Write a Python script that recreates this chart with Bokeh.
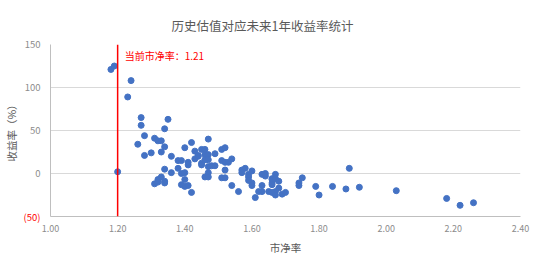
from bokeh.plotting import figure
from bokeh.models import Span, Label, FixedTicker, ColumnDataSource
from bokeh.embed import file_html
from bokeh.resources import INLINE

title_text = "历史估值对应未来1年收益率统计"
x_label = "市净率"
y_label = "收益率（%）"
current_pb = 1.21
current_line_at = 1.20
current_text = "当前市净率：1.21"

x_ticks = [1.0, 1.2, 1.4, 1.6, 1.8, 2.0, 2.2, 2.4]
y_ticks = [-50, 0, 50, 100, 150]
y_neg_tick = -50

pb = [1.18, 1.19, 1.20, 1.24, 1.23,
      1.27, 1.27, 1.35, 1.34, 1.28,
      1.26, 1.31, 1.32, 1.33, 1.34, 1.33, 1.30, 1.28, 1.36,
      1.42, 1.40, 1.43, 1.44, 1.43, 1.38, 1.39, 1.41, 1.41, 1.38, 1.34, 1.36, 1.39, 1.40,
      1.40, 1.39, 1.40, 1.41, 1.42, 1.33, 1.32, 1.31, 1.34, 1.34, 1.32,
      1.47, 1.45, 1.46, 1.44, 1.46, 1.47, 1.49, 1.51, 1.52, 1.45, 1.45, 1.46, 1.47, 1.47,
      1.48, 1.49, 1.51, 1.52, 1.53, 1.54, 1.52, 1.47, 1.46, 1.47, 1.51, 1.52, 1.54, 1.56,
      1.57, 1.58, 1.57, 1.59, 1.59, 1.59, 1.60, 1.60, 1.60, 1.61, 1.62, 1.63, 1.63, 1.63,
      1.64, 1.64, 1.66, 1.66, 1.65, 1.67,
      1.67, 1.66, 1.67, 1.68, 1.66, 1.68, 1.66, 1.67, 1.69, 1.70, 1.74, 1.74, 1.75, 1.79,
      1.80, 1.84, 1.88, 1.89, 1.92, 2.03, 2.18, 2.22, 2.26]
ret = [121, 125, 2, 108, 89,
       65, 56, 63, 52, 44,
       34, 41, 38, 38, 31, 25, 24, 21, 20,
       36, 30, 26, 20, 17, 15, 15, 10, 13, 6, 5, 1, 0, 1,
       -7, -13, -15, -14, -22, -4, -7, -12, -9, -11, -10,
       40, 28, 28, 21, 22, 22, 23, 28, 30, 12, 10, 16, 16, 8,
       9, 9, 15, 13, 13, 17, 4, 1, -4, -4, -5, -5, -14, -21,
       4, 6, 1, -1, -4, -8, 3, -11, -14, -28, -21, -21, -14, -1,
       0, -3, -7, -11, -21, -21,
       -1, -6, -6, -9, -13, -17, -22, -25, -24, -22, -11, -14, -5, -15,
       -25, -15, -18, 6, -16, -20, -29, -37, -34]

FONT = "Noto Sans CJK SC"
GREY = "#595959"
TICK_GREY = "#8c8c8c"

p = figure(width=537, height=259, output_backend="svg", toolbar_location=None,
           x_range=(1.0, 2.4), y_range=(-50, 150),
           min_border_left=46, min_border_right=15, min_border_top=44, min_border_bottom=43)
p.outline_line_color = None
p.background_fill_color = "white"
p.border_fill_color = "white"

p.title.text = title_text
p.title.align = "left"
p.title.offset = 121
p.title.text_font = FONT
p.title.text_font_size = "12.5px"
p.title.text_font_style = "normal"
p.title.text_color = GREY
p.title.standoff = 20

# x axis
p.xaxis.ticker = FixedTicker(ticks=x_ticks)
p.xaxis.major_label_overrides = {t: f"{t:.2f}" for t in x_ticks}
p.xaxis.axis_label = x_label
p.xaxis.axis_label_text_font = FONT
p.xaxis.axis_label_text_font_size = "10.5px"
p.xaxis.axis_label_text_font_style = "normal"
p.xaxis.axis_label_text_color = GREY
p.xaxis.axis_label_standoff = 5
p.xaxis.major_label_text_font = FONT
p.xaxis.major_label_text_font_size = "9px"
p.xaxis.major_label_text_color = TICK_GREY
p.xaxis.major_label_standoff = 8
p.xaxis.axis_line_color = "#BFBFBF"
p.xaxis.major_tick_line_color = None
p.xaxis.minor_tick_line_color = None
p.xaxis.major_tick_out = 0
p.xaxis.major_tick_in = 0
p.xaxis.minor_tick_out = 0
p.xaxis.minor_tick_in = 0

# y axis (the negative tick's label is drawn in red below)
p.yaxis.ticker = FixedTicker(ticks=y_ticks)
p.yaxis.major_label_overrides = {y_neg_tick: ""}
p.yaxis.axis_label = y_label
p.yaxis.axis_label_text_font = FONT
p.yaxis.axis_label_text_font_size = "10.5px"
p.yaxis.axis_label_text_font_style = "normal"
p.yaxis.axis_label_text_color = GREY
p.yaxis.axis_label_standoff = 3
p.yaxis.major_label_text_font = FONT
p.yaxis.major_label_text_font_size = "9.5px"
p.yaxis.major_label_text_color = TICK_GREY
p.yaxis.major_label_standoff = 10
p.yaxis.axis_line_color = "#BFBFBF"
p.yaxis.major_tick_line_color = None
p.yaxis.minor_tick_line_color = None
p.yaxis.major_tick_out = 0
p.yaxis.major_tick_in = 0
p.yaxis.minor_tick_out = 0
p.yaxis.minor_tick_in = 0

# red "(50)" label, hosted in the (empty) right side panel so it is not clipped to the frame
p.add_layout(Label(x=x_ticks[0], y=y_neg_tick, text=f"({abs(y_neg_tick)})", x_offset=-10,
                   text_align="right", text_baseline="middle", text_font=FONT,
                   text_font_size="9.5px", text_color="#FF0000"), "right")

p.xgrid.grid_line_color = None
p.ygrid.grid_line_color = "#D9D9D9"
p.ygrid.grid_line_width = 1

src = ColumnDataSource(dict(pb=pb, ret=ret))
p.scatter("pb", "ret", source=src, size=6, fill_color="#4472C4", line_color="#4472C4")

p.add_layout(Span(location=current_line_at, dimension="height", line_color="#FF0000", line_width=1.5))
p.add_layout(Label(x=current_line_at, y=150, text=current_text, x_offset=7, y_offset=-11,
                   text_align="left", text_baseline="middle", text_font=FONT,
                   text_font_size="10px", text_color="#FF0000"))

open("out.html", "w").write(file_html(p, INLINE))
